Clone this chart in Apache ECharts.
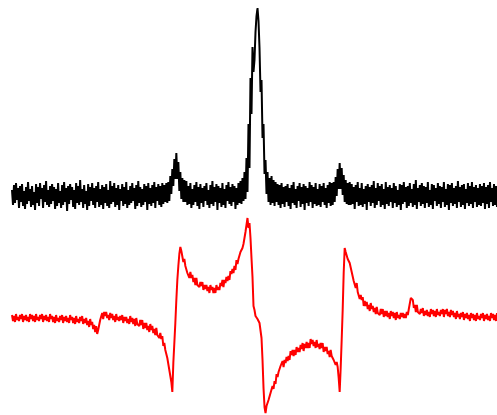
<!DOCTYPE html>
<html>
<head>
<meta charset="utf-8">
<script src="https://cdn.jsdelivr.net/npm/echarts@6/dist/echarts.min.js"></script>
<style>html,body{margin:0;padding:0;background:#fff}#c{width:497px;height:415px}</style>
</head>
<body>
<div id="c"></div>
<script>
// Upper (black) spectrum: intensity relative to baseline, one reading per field step
const blackSignal = [
6,-9,11,-7,13,-4,8,-12,10,-6,
12,-10,5,-13,9,-8,14,-5,7,-11,
10,-9,4,-14,12,-7,9,-10,13,-3,
8,-12,11,-6,15,-9,6,-11,10,-8,
12,-5,9,-13,7,-10,13,-7,5,-12,
11,-9,14,-6,8,-15,10,-8,12,-4,
9,-11,6,-13,13,-7,10,-9,16,-6,
7,-12,11,-8,5,-14,12,-10,9,-5,
13,-9,8,-12,10,-6,14,-11,7,-9,
11,-13,9,-7,12,-10,6,-12,15,-8,
10,-6,13,-11,8,-9,11,-14,7,-5,
12,-10,9,-8,14,-12,6,-9,10,-7,
13,-5,8,-13,11,-10,15,-7,9,-11,
7,-9,12,-6,10,-14,13,-8,8,-10,
11,-7,14,-12,9,-5,12,-9,10,-11,
13,-8,11,-6,
13,-7,14,-5,20,2,27,10,37,17,43,17,34,5,24,-3,18,-6,16,-6,15,-9,
10,-8,13,-12,7,-9,11,-6,14,-10,
9,-13,12,-7,8,-11,10,-5,13,-9,
6,-12,11,-8,15,-10,9,-6,12,-14,
10,-7,8,-11,13,-9,7,-12,11,-5,
14,-8,9,-10,12,-6,10,-13,8,-9,
13,-7,15,-8,18,-5,
24,-3,38,4,72,28,118,82,149,124,136,164,180,188,175,148,104,116,58,72,22,36,2,24,-6,18,-9,
20,-7,16,-10,14,-6,12,-9,11,-12,
13,-8,9,-11,10,-6,12,-10,8,-13,
11,-7,14,-9,7,-12,10,-5,13,-11,
9,-8,12,-14,10,-7,8,-10,14,-6,
11,-12,9,-8,13,-10,7,-9,12,-11,
10,-6,13,-9,8,-12,11,-7,14,-10,
13,-9,14,-6,19,0,27,7,33,7,28,1,21,-6,16,-8,13,-9,14,-9,
12,-8,9,-13,11,-6,14,-10,8,-9,
13,-11,7,-8,10,-14,12,-6,9,-10,
11,-7,15,-12,8,-9,13,-5,10,-11,
12,-9,7,-13,14,-8,9,-10,11,-6,
8,-12,13,-7,10,-11,6,-9,12,-14,
11,-8,14,-6,9,-12,10,-10,13,-7,
7,-11,12,-9,16,-13,8,-6,11,-10,
13,-8,10,-12,9,-7,14,-11,6,-9,
12,-13,11,-5,8,-10,13,-8,10,-12,
9,-6,14,-11,7,-9,12,-14,11,-7,
13,-10,8,-8,10,-12,15,-6,9,-11,
11,-9,12,-13,7,-7,13,-10,10,-8,
14,-12,9,-6,11,-11,8,-9,12,-10,
10,-7,13,-13,9,-8,11,-12,14,-6,
8,-10,12,-9,10,-11
];

// Lower (red) derivative spectrum, same field steps
const redSignal = [
3,-3,2,-4,4,-2,1,-3,3,-1,
4,-4,2,-2,3,-3,1,-4,4,-1,
3,-3,2,-4,4,-2,1,-3,3,-1,
4,-4,2,-2,3,-3,1,-4,4,-1,
2,-4,1,-5,3,-3,0,-4,2,-2,
3,-5,1,-3,2,-4,0,-5,3,-2,
1,-5,0,-6,2,-4,-1,-5,1,-3,
2,-6,-1,-5,0,-7,-3,-9,-1,-7,
-4,-11,-7,-14,-8,-16,-12,-11,-2,-3,
5,-1,6,2,6,0,3,-2,5,0,
4,-2,2,-4,4,-2,1,-3,2,-2,
3,-5,1,-3,1,-5,-1,-6,2,-4,
0,-6,-1,-8,0,-6,-4,-8,-2,-7,
-2,-11,-5,-10,-5,-12,-8,-14,-6,-12,
-8,-15,-11,-17,-10,-17,-15,-20,-15,-21,
-18,-28,-25,-32,-30,-40,-41,-52,-51,-64,
-74,-45,-25,-5,18,38,52,64,71,67,
68,56,59,52,54,45,47,40,46,40,
43,36,40,33,40,33,35,31,36,32,
36,28,33,29,33,27,31,25,33,28,
31,25,30,25,33,28,31,28,35,32,
38,31,38,35,41,37,42,38,47,44,
49,45,52,48,58,54,59,57,66,65,
70,74,80,86,93,100,90,95,80,60,
41,12,8,2,4,-1,0,-5,-7,-20,
-42,-70,-89,-95,-88,-89,-82,-83,-75,-76,
-68,-71,-63,-66,-56,-59,-54,-56,-48,-50,
-43,-49,-42,-45,-39,-43,-38,-42,-33,-37,
-32,-38,-32,-37,-29,-34,-30,-34,-27,-31,
-25,-33,-26,-30,-24,-30,-25,-30,-21,-26,
-22,-28,-24,-30,-22,-29,-26,-31,-25,-30,
-25,-34,-29,-33,-29,-36,-33,-39,-32,-38,
-36,-42,-40,-47,-44,-49,-60,-74,-50,-22,
8,45,70,66,65,59,60,55,53,46,
47,37,39,30,35,26,25,19,23,18,
21,12,17,12,16,9,13,7,15,9,
12,6,10,4,11,5,7,3,9,4,
9,1,7,2,7,1,5,-1,7,2,
6,0,5,-2,6,0,3,-1,5,1,
5,0,4,0,6,3,9,11,20,19,
18,10,13,6,13,6,8,4,9,5,
10,2,7,3,8,2,6,1,9,4,
8,2,7,1,9,3,6,2,8,4,
9,1,8,4,9,2,6,1,8,3,
7,1,5,-1,7,1,4,-1,5,1,
6,-2,4,0,5,-1,3,-3,5,0,
4,-2,3,-3,5,-1,2,-2,4,0,
5,-3,3,-1,4,-2,2,-3,5,0,
4,-2,3,-3,5
];

const blackRange = [-19, 196];
const redRange = [-97, 108];

const n = Math.max(blackSignal.length, redSignal.length);
const blackData = blackSignal.map((v, i) => [i, v]);
const redData = redSignal.map((v, i) => [i, v]);

const chart = echarts.init(document.getElementById('c'), null, {renderer: 'canvas'});
chart.setOption({
  animation: false,
  backgroundColor: '#ffffff',
  grid: [
    {left: 12, right: 0, top: 0, height: 215},
    {left: 12, right: 0, top: 210, height: 205}
  ],
  xAxis: [
    {type: 'value', gridIndex: 0, min: 0, max: n - 1, show: false},
    {type: 'value', gridIndex: 1, min: 0, max: n - 1, show: false}
  ],
  yAxis: [
    {type: 'value', gridIndex: 0, min: blackRange[0], max: blackRange[1], show: false},
    {type: 'value', gridIndex: 1, min: redRange[0], max: redRange[1], show: false}
  ],
  series: [
    {type: 'line', xAxisIndex: 0, yAxisIndex: 0, data: blackData, symbol: 'none',
     lineStyle: {color: '#000000', width: 2}, silent: true},
    {type: 'line', xAxisIndex: 1, yAxisIndex: 1, data: redData, symbol: 'none',
     lineStyle: {color: '#ff0000', width: 2}, silent: true}
  ]
});
</script>
</body>
</html>
